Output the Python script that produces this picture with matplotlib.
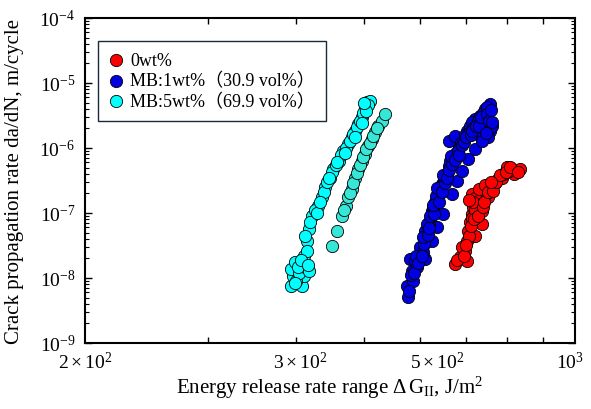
import matplotlib
matplotlib.use('Agg')
import matplotlib.pyplot as plt
from matplotlib.ticker import FixedLocator, NullFormatter, LogLocator

plt.rcParams['font.family'] = ['Liberation Serif', 'Noto Sans CJK JP']
plt.rcParams['mathtext.fontset'] = 'custom'
plt.rcParams['mathtext.rm'] = 'Liberation Serif'
plt.rcParams['mathtext.it'] = 'Liberation Serif:italic'
plt.rcParams['mathtext.bf'] = 'Liberation Serif:bold'

# 0wt%
red_dG = [674, 685, 701, 697, 701, 720, 704, 708, 712, 716, 736, 728, 712, 744, 752,
          761, 777, 786, 799, 812, 826, 835, 817, 724, 736, 690, 706, 714, 720, 733,
          740, 748, 756, 768, 790, 805, 720, 730, 745,
          678, 694, 699, 710, 718, 726, 716, 738, 742, 752, 764, 772, 782, 796, 808,
          830, 760, 707]
red_rate = [1.64e-8, 2.1e-8, 1.85e-8, 2.6e-8, 3.75e-8, 4.5e-8, 5.3e-8, 7.2e-8, 9.7e-8,
            1.22e-7, 6.8e-8, 1.64e-7, 1.96e-7, 2.2e-7, 1.75e-7, 2.6e-7, 3.3e-7, 3.5e-7,
            5.05e-7, 4.75e-7, 4.5e-7, 4.75e-7, 4.0e-7, 1.3e-7, 1.09e-7, 3.0e-8, 4.5e-8,
            8.5e-8, 1.1e-7, 1.45e-7, 1.8e-7, 2.0e-7, 2.4e-7, 2.9e-7, 4.0e-7, 4.4e-7,
            1.7e-7, 2.3e-7, 2.7e-7,
            1.9e-8, 2.2e-8, 3.2e-8, 6.2e-8, 8.0e-8, 9.0e-8, 1.45e-7, 1.25e-7, 1.5e-7,
            2.1e-7, 2.2e-7, 3.0e-7, 3.8e-7, 4.3e-7, 5.1e-7, 4.3e-7, 3.0e-7, 1.6e-7]

# MB:1wt%
blue_dG = [578, 575, 588, 585, 582, 591, 611, 601, 614, 611, 621, 625, 631, 638, 645,
           657, 660, 671, 682, 693, 701, 708, 720, 732, 744, 756, 660, 674, 744, 756,
           752, 728, 625, 635, 649, 667, 678, 689, 704, 720, 736, 761, 596, 606, 618,
           628, 634, 641, 650, 664, 676, 687, 697, 712, 726, 738, 750, 716, 740, 705,
           580, 584, 590, 594, 598, 604, 608, 606, 616, 614, 622, 620, 630, 627, 640,
           636, 646, 652, 648, 656, 662, 668, 666, 674, 680, 684, 690, 695, 700, 710,
           714, 722, 730, 735, 748, 753, 758, 747, 762]
blue_rate = [5.05e-9, 7.6e-9, 9.1e-9, 1.3e-8, 1.96e-8, 1.85e-8, 1.96e-8, 3.0e-8, 3.75e-8,
             5.3e-8, 7.6e-8, 1.09e-7, 1.46e-7, 2.2e-7, 2.8e-7, 4.0e-7, 5.3e-7, 7.2e-7,
             1.03e-6, 1.38e-6, 1.85e-6, 2.2e-6, 2.8e-6, 3.1e-6, 4.0e-6, 4.75e-6, 1.3e-6,
             1.55e-6, 2.1e-6, 1.85e-6, 1.46e-6, 1.64e-6, 3.75e-8, 6.0e-8, 9.7e-8, 1.96e-7,
             3.1e-7, 4.5e-7, 6.8e-7, 9.7e-7, 1.3e-6, 2.2e-6, 1.5e-8, 2.5e-8, 6.5e-8,
             1.25e-7, 1.8e-7, 2.5e-7, 3.3e-7, 6.2e-7, 8.5e-7, 1.2e-6, 1.6e-6, 2.5e-6,
             2.6e-6, 3.5e-6, 4.3e-6, 2.0e-6, 2.5e-6, 1.7e-6,
             6.2e-9, 1.1e-8, 1.2e-8, 2.2e-8, 1.7e-8, 2.2e-8, 3.3e-8, 4.3e-8, 4.6e-8,
             6.8e-8, 9.0e-8, 5.8e-8, 9.5e-8, 1.35e-7, 1.45e-7, 2.4e-7, 2.1e-7, 2.9e-7,
             3.8e-7, 3.5e-7, 4.6e-7, 5.6e-7, 7.6e-7, 6.5e-7, 9.0e-7, 7.8e-7, 1.1e-6,
             1.25e-6, 1.45e-6, 1.6e-6, 1.85e-6, 2.2e-6, 2.2e-6, 3.0e-6, 3.3e-6, 2.6e-6,
             3.9e-6, 1.7e-6, 2.5e-6]

# MB:5wt%, two specimens
cyan_dG = [394, 396, 394, 399, 410, 408, 410, 414, 417, 421, 430, 435, 440, 447, 452,
           460, 467, 475, 480, 486, 491, 496, 502, 505, 510, 400, 404, 412, 415, 425,
           438, 443, 450, 456, 463, 471, 478, 483, 489, 494, 499, 507,
           398, 402, 406, 418, 416, 412, 419, 428, 433, 445, 458, 470, 486, 497, 503, 500]
cyan_rate = [7.6e-9, 1.08e-8, 1.38e-8, 1.75e-8, 2.2e-8, 7.6e-9, 1.08e-8, 3.75e-8, 5.7e-8,
             9.1e-8, 1.3e-7, 1.75e-7, 2.5e-7, 3.5e-7, 4.75e-7, 6.4e-7, 9.1e-7, 1.15e-6,
             1.46e-6, 1.85e-6, 2.34e-6, 2.97e-6, 4.0e-6, 5.05e-6, 5.35e-6, 9e-9, 1.2e-8,
             1.5e-8, 2.6e-8, 1.1e-7, 2.1e-7, 3.0e-7, 4.2e-7, 5.5e-7, 7.8e-7, 1.0e-6,
             1.3e-6, 1.65e-6, 2.1e-6, 2.6e-6, 3.4e-6, 4.6e-6,
             8.5e-9, 1.5e-8, 1.9e-8, 1.3e-8, 1.6e-8, 4.5e-8, 7.2e-8, 1.0e-7, 1.5e-7,
             3.4e-7, 6.0e-7, 8.5e-7, 1.5e-6, 2.4e-6, 3.7e-6, 5.0e-6]
cyan2_dG = [450, 457, 465, 472, 475, 480, 486, 491, 496, 502, 507, 513, 518, 524, 530,
            536, 468, 478, 483, 488, 494, 499, 504, 510, 515, 521]
cyan2_rate = [3.1e-8, 5.3e-8, 9.1e-8, 1.3e-7, 1.75e-7, 2.35e-7, 3.5e-7, 4.75e-7, 6.4e-7,
              8.1e-7, 1.08e-6, 1.38e-6, 1.75e-6, 2.2e-6, 2.6e-6, 3.3e-6, 1.1e-7, 2.0e-7,
              2.9e-7, 4.1e-7, 5.5e-7, 7.3e-7, 9.5e-7, 1.2e-6, 1.55e-6, 2.0e-6]

xtick_pos = [200, 405, 635, 985]
xtick_txt = [r'$2\times10^2$', r'$3\times10^2$', r'$5\times10^2$', r'$10^3$']
xminor = [300, 400, 500, 600, 700, 800, 900]

fig = plt.figure(figsize=(5.91, 4.10), dpi=100)
ax = fig.add_axes([0.1438, 0.161, 0.8292, 0.7927])

ms = 78
ax.scatter(cyan_dG, cyan_rate, s=ms, c='#00ffff', edgecolors='black', linewidths=0.6, zorder=3)
ax.scatter(cyan2_dG, cyan2_rate, s=ms, c='#36e6d6', edgecolors='black', linewidths=0.6, zorder=3)
ax.scatter(blue_dG, blue_rate, s=ms, c='#0000e0', edgecolors='black', linewidths=0.6, zorder=3)
ax.scatter(red_dG, red_rate, s=ms, c='#ff0000', edgecolors='black', linewidths=0.6, zorder=3)

ax.set_xscale('log')
ax.set_yscale('log')
ax.set_xlim(200, 1000)
ax.set_ylim(1e-9, 1e-4)

ax.xaxis.set_major_locator(FixedLocator(xtick_pos))
ax.set_xticklabels(xtick_txt)
ax.xaxis.set_minor_locator(FixedLocator(xminor))
ax.xaxis.set_minor_formatter(NullFormatter())
ax.yaxis.set_minor_locator(LogLocator(base=10, subs=range(2, 10), numticks=20))
ax.yaxis.set_minor_formatter(NullFormatter())
ax.xaxis.get_offset_text().set_visible(False)
ax.yaxis.get_offset_text().set_visible(False)

ax.tick_params(axis='x', which='major', length=0, pad=6, labelsize=14)
ax.tick_params(axis='x', which='minor', direction='in', length=4, width=1, top=True)
ax.tick_params(axis='y', which='major', direction='in', length=5, width=1, right=True, pad=7, labelsize=14)
ax.tick_params(axis='y', which='minor', direction='in', length=3, width=0.8, right=True)
for sp in ax.spines.values():
    sp.set_linewidth(1.5)

ax.set_xlabel(r'Energy release rate range $\Delta\,\mathrm{G}_{\mathrm{II}}$, J/m$^2$', fontsize=15)
ax.set_ylabel('Crack propagation rate da/dN, m/cycle', fontsize=15)
ax.xaxis.set_label_coords(0.5, -0.095)
ax.yaxis.set_label_coords(-0.125, 0.5)

# legend
ax.scatter([], [], s=ms, c='#ff0000', edgecolors='black', linewidths=0.6, label='0wt%')
ax.scatter([], [], s=ms, c='#0000e0', edgecolors='black', linewidths=0.6, label='MB:1wt%（30.9 vol%）')
ax.scatter([], [], s=ms, c='#00ffff', edgecolors='black', linewidths=0.6, label='MB:5wt%（69.9 vol%）')
h, l = ax.get_legend_handles_labels()
leg = ax.legend(h, l, loc='upper left', bbox_to_anchor=(0.02, 0.94), fontsize=13,
                frameon=True, fancybox=False, framealpha=1, edgecolor='#1a2a3a',
                handletextpad=0.35, borderpad=0.6, labelspacing=0.18, handlelength=0.8,
                borderaxespad=0.2, scatterpoints=1)
leg.get_frame().set_linewidth(1.0)

plt.savefig('out.png', dpi=100)
